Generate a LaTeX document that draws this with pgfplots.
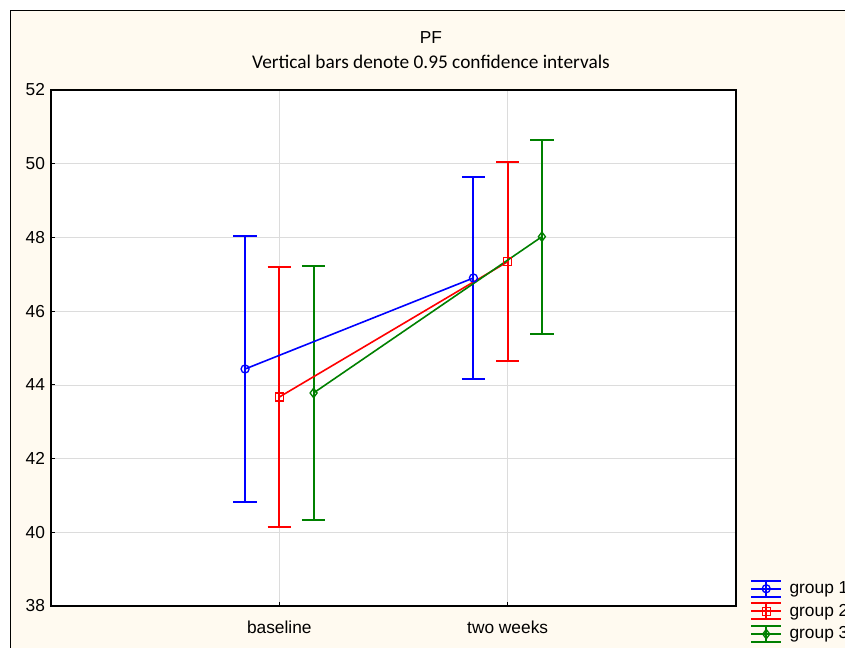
\documentclass[border=0pt]{standalone}
\usepackage{pgfplots}
\pgfplotsset{compat=1.18}
\usepackage{fontspec}
\setmainfont{Liberation Sans}
\newfontfamily\calibri{Carlito}
\definecolor{bgcream}{RGB}{255,250,240}
\definecolor{gblue}{RGB}{0,0,255}
\definecolor{gred}{RGB}{255,0,0}
\definecolor{ggreen}{RGB}{0,128,0}
\definecolor{gridgray}{RGB}{220,220,220}
\pgfplotsset{
  cilegend/.style={legend image code/.code={
    \draw[##1, line width=1.5pt] (0pt,0pt) -- (22.5pt,0pt);
    \draw[##1, line width=1.5pt] (0pt,6pt) -- (22.5pt,6pt);
    \draw[##1, line width=1.5pt] (0pt,-6pt) -- (22.5pt,-6pt);
    \draw[##1, line width=1.5pt] (11.25pt,-6pt) -- (11.25pt,6pt);
    \draw[##1,mark repeat=2,mark phase=2] plot coordinates {(0pt,0pt) (11.25pt,0pt) (22.5pt,0pt)};
  }}
}
\begin{document}
\begin{tikzpicture}
\clip (-38.25pt,-31.5pt) rectangle (595.5pt,454.5pt);
\fill[white] (-38.25pt,-31.5pt) rectangle (595.5pt,454.5pt);
\draw[black, line width=0.6pt, fill=bgcream] (-30.75pt,-60pt) rectangle (640pt,447pt);
\node[font=\fontsize{13}{15}\selectfont] at (285pt,426pt) {PF};
\node[font=\calibri\fontsize{14.5}{17}\selectfont] at (285pt,408pt) {Vertical bars denote 0.95 confidence intervals};
\begin{axis}[
  at={(0pt,0pt)}, anchor=south west,
  scale only axis, width=513.75pt, height=387pt,
  xmin=0, xmax=3, ymin=38, ymax=52,
  xtick={1,2}, xticklabels={baseline, two weeks},
  ytick={38,40,...,52},
  tick pos=left, tick align=inside, major tick length=3pt,
  grid=major, major grid style={draw=gridgray, line width=0.5pt},
  axis background/.style={fill=white},
  axis line style={line width=1.1pt},
  tick style={black, line width=0.6pt},
  ticklabel style={font=\fontsize{13}{15}\selectfont},
  /pgf/number format/assume math mode=true,
  yticklabel style={xshift=-1pt},
  xticklabel style={yshift=-7.5pt},
  legend style={at={(1.0204,0.052)}, anchor=north west, draw=none, fill=none,
    font=\fontsize{13}{15}\selectfont, inner sep=0pt, row sep=3pt, column sep=4.5pt,
    nodes={inner sep=1pt, text height=9.5pt, text depth=2.5pt}},
  legend cell align=left,
  cilegend,
  every axis plot/.append style={line width=1.2pt},
  unbounded coords=jump,
]
% confidence interval bars (vertical bar, upper cap, lower cap)
\addplot[color=gblue, forget plot, line width=1.5pt] coordinates {
  (0.85,40.82) (0.85,48.04) (nan,nan)
  (0.799,48.04) (0.901,48.04) (nan,nan)
  (0.799,40.82) (0.901,40.82) (nan,nan)
  (1.85,44.15) (1.85,49.65) (nan,nan)
  (1.799,49.65) (1.901,49.65) (nan,nan)
  (1.799,44.15) (1.901,44.15)};
\addplot[color=gred, forget plot, line width=1.5pt] coordinates {
  (1,40.15) (1,47.19) (nan,nan)
  (0.949,47.19) (1.051,47.19) (nan,nan)
  (0.949,40.15) (1.051,40.15) (nan,nan)
  (2,44.64) (2,50.04) (nan,nan)
  (1.949,50.04) (2.051,50.04) (nan,nan)
  (1.949,44.64) (2.051,44.64)};
\addplot[color=ggreen, forget plot, line width=1.5pt] coordinates {
  (1.15,40.33) (1.15,47.23) (nan,nan)
  (1.099,47.23) (1.201,47.23) (nan,nan)
  (1.099,40.33) (1.201,40.33) (nan,nan)
  (2.15,45.39) (2.15,50.65) (nan,nan)
  (2.099,50.65) (2.201,50.65) (nan,nan)
  (2.099,45.39) (2.201,45.39)};
% means
\addplot[color=gblue, mark=o, mark size=3pt, mark options={solid, fill=white, line width=1pt}]
  coordinates {(0.85,44.43) (1.85,46.90)};
\addlegendentry{group 1}
\addplot[color=gred, mark=square, mark size=3pt, mark options={solid, fill=white, line width=1pt}]
  coordinates {(1,43.67) (2,47.34)};
\addlegendentry{group 2}
\addplot[color=ggreen, mark=diamond, mark size=3.5pt, mark options={solid, fill=white, line width=1pt}]
  coordinates {(1.15,43.78) (2.15,48.02)};
\addlegendentry{group 3}
\end{axis}
\end{tikzpicture}
\end{document}
